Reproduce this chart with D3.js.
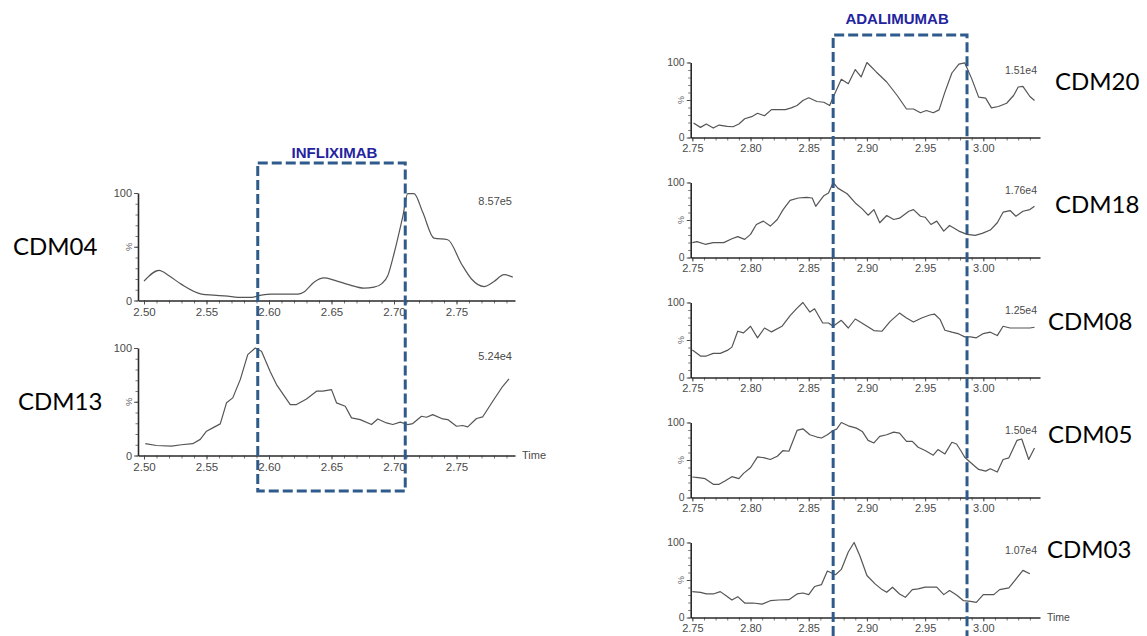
<!DOCTYPE html>
<html>
<head>
<meta charset="utf-8">
<script src="https://cdn.jsdelivr.net/npm/d3@7"></script>
<style>
  html, body { margin: 0; padding: 0; background: #fff; }
  svg { display: block; }
</style>
</head>
<body>
<svg id="chart" width="1147" height="636"></svg>
<script>
// Retention-time windows (min) for each antibody
const infliximabWindow = [2.591, 2.709];
const adalimumabWindow = [2.871, 2.986];

// Sample names and base-peak intensities
const leftSamples = ["CDM04", "CDM13"];
const leftIntensity = ["8.57e5", "5.24e4"];
const rightSamples = ["CDM20", "CDM18", "CDM08", "CDM05", "CDM03"];
const rightIntensity = ["1.51e4", "1.76e4", "1.25e4", "1.50e4", "1.07e4"];

// Axis ticks
const leftTicks = [2.50, 2.55, 2.60, 2.65, 2.70, 2.75];
const rightTicks = [2.75, 2.80, 2.85, 2.90, 2.95, 3.00];
const yTicks = [0, 50, 100];

// Chromatogram traces: [time (min), relative abundance (%)]
const cdm04 = [[2.500,18],[2.512,28],[2.520,23],[2.530,15],[2.546,6],[2.556,5],[2.567,4],[2.575,3],[2.586,3],[2.594,5],[2.602,6],[2.610,6],[2.623,6],[2.628,8],[2.636,17],[2.644,21],[2.652,19],[2.663,15],[2.676,11.5],[2.684,12.4],[2.690,15.5],[2.695,23],[2.700,43.5],[2.707,78],[2.711,99.4],[2.716,99.4],[2.723,82],[2.732,58],[2.743,56.5],[2.754,34],[2.762,20],[2.772,13],[2.780,17.7],[2.788,24],[2.795,21.7]];

const cdm13 = [[2.501,11],[2.510,9.3],[2.522,8.7],[2.530,10],[2.539,11],[2.545,15],[2.550,22.6],[2.555,25.7],[2.561,29.4],[2.566,49],[2.571,53.6],[2.577,70.6],[2.583,93.8],[2.589,100],[2.594,97],[2.601,78],[2.606,66],[2.617,47.4],[2.622,47.4],[2.630,52.6],[2.638,59.8],[2.643,59.8],[2.650,61.3],[2.654,49],[2.661,45.8],[2.666,35],[2.673,33.4],[2.682,28.8],[2.687,34],[2.694,30.3],[2.699,28.8],[2.705,31],[2.711,28.8],[2.715,29.7],[2.722,36.5],[2.726,35.6],[2.731,38],[2.739,34],[2.743,33.4],[2.750,27.2],[2.755,27.9],[2.759,26.6],[2.766,34.4],[2.771,36],[2.779,50.5],[2.787,64.4],[2.792,71.2]];

const cdm20 = [[2.751,19.3],[2.757,13.5],[2.762,18],[2.768,12.6],[2.773,16.6],[2.780,14.8],[2.785,14.3],[2.790,18],[2.795,25],[2.801,27.8],[2.806,32.3],[2.812,29],[2.818,37.2],[2.824,37.2],[2.830,37.2],[2.835,39.5],[2.840,42.6],[2.845,49.3],[2.850,52.9],[2.857,48],[2.863,47],[2.868,42.6],[2.871,53.8],[2.878,77.6],[2.884,71.7],[2.890,90.6],[2.895,80.7],[2.900,100],[2.908,87.4],[2.917,74],[2.926,56],[2.934,38],[2.940,38],[2.946,33],[2.951,36],[2.957,33],[2.962,36.8],[2.967,60.5],[2.973,86],[2.979,97.8],[2.984,99.6],[2.990,78.5],[2.996,53.8],[3.002,52.5],[3.007,39.5],[3.013,41.3],[3.020,45.7],[3.026,56],[3.030,67.3],[3.034,68.2],[3.040,54.7],[3.044,49.3]];

const cdm18 = [[2.750,19.8],[2.754,21.1],[2.761,17.6],[2.768,19.8],[2.777,19.8],[2.784,25],[2.789,27.8],[2.795,24.2],[2.800,30.8],[2.805,44],[2.811,48.5],[2.817,41.9],[2.823,50.7],[2.828,63.9],[2.834,76.2],[2.841,79.3],[2.848,80.2],[2.853,79.3],[2.856,68.3],[2.863,82.4],[2.867,85.9],[2.871,100],[2.875,92.5],[2.883,85],[2.890,72.7],[2.896,64.8],[2.901,56.4],[2.906,63.9],[2.911,46.3],[2.917,56],[2.923,50.7],[2.928,52.4],[2.936,61.7],[2.940,63.9],[2.946,55],[2.950,53.7],[2.955,44],[2.960,48.5],[2.966,35.2],[2.971,42.7],[2.979,35.2],[2.986,30.8],[2.993,29.5],[2.999,32.2],[3.006,36.6],[3.012,46.3],[3.017,60.4],[3.023,62.6],[3.028,55],[3.034,61.7],[3.040,63.9],[3.044,68.3]];

const cdm08 = [[2.750,36.6],[2.757,28.6],[2.762,28.6],[2.768,32.2],[2.774,32.2],[2.780,36.1],[2.784,40.5],[2.789,61.7],[2.794,59.5],[2.800,68.3],[2.806,52.9],[2.812,66],[2.818,60.8],[2.827,68.3],[2.834,82.4],[2.840,92.5],[2.845,100],[2.851,87.2],[2.855,91.6],[2.862,72.7],[2.867,72.7],[2.871,68.3],[2.878,76.2],[2.884,66],[2.890,78],[2.897,71.4],[2.906,62.6],[2.913,61.7],[2.920,74.9],[2.928,85.9],[2.934,79.3],[2.940,74],[2.947,79.3],[2.954,83.3],[2.958,84.6],[2.963,77.1],[2.967,63],[2.973,60.4],[2.979,58.1],[2.984,54.2],[2.989,54.2],[2.994,52.9],[3.000,58.6],[3.006,60.4],[3.012,55.9],[3.017,68.3],[3.023,66],[3.032,66],[3.040,66],[3.044,67]];

const cdm05 = [[2.750,27.3],[2.755,26.4],[2.761,25.1],[2.768,17.6],[2.773,17.6],[2.778,22],[2.784,27.8],[2.790,25.1],[2.794,32.2],[2.800,39.6],[2.806,54.2],[2.812,52.9],[2.817,50.7],[2.823,55],[2.828,62.6],[2.833,61.7],[2.840,89.4],[2.845,91.6],[2.851,83.7],[2.857,80.6],[2.861,79.3],[2.866,83.7],[2.871,89.4],[2.874,91.2],[2.878,100],[2.884,95.6],[2.891,92.5],[2.896,88.1],[2.901,76.2],[2.906,72.7],[2.911,81.5],[2.917,83.7],[2.923,87.2],[2.928,85.9],[2.934,74.9],[2.939,74.9],[2.944,67],[2.950,62.6],[2.957,56.4],[2.961,63.9],[2.967,58.1],[2.973,73.6],[2.977,71.4],[2.981,61.7],[2.984,53.7],[2.990,45.4],[2.996,37.4],[3.002,35.2],[3.006,38.3],[3.012,33.9],[3.017,50.7],[3.022,52.9],[3.029,76.2],[3.033,78],[3.039,50.7],[3.044,66]];

const cdm03 = [[2.750,34.5],[2.757,33.6],[2.762,31.4],[2.768,31.4],[2.774,34.5],[2.779,29.1],[2.784,23.3],[2.789,27.8],[2.795,19.3],[2.802,19.3],[2.810,17.9],[2.817,22.4],[2.824,23.3],[2.833,23.8],[2.840,31.4],[2.845,32.7],[2.850,30.5],[2.855,41.3],[2.861,43.9],[2.866,61.9],[2.873,57],[2.878,64.1],[2.884,87.4],[2.889,100],[2.894,82],[2.900,56],[2.907,44.8],[2.913,37.2],[2.917,33.6],[2.922,40.4],[2.928,31.4],[2.933,26.9],[2.939,37.2],[2.944,38.1],[2.950,40.4],[2.960,40.4],[2.966,30.5],[2.971,35.9],[2.977,30],[2.983,22.4],[2.989,21.5],[2.994,20.2],[3.000,30.5],[3.009,30.5],[3.014,37.2],[3.022,39.5],[3.027,49.3],[3.034,62.8],[3.040,58.3]];

const leftTraces = [cdm04, cdm13];
const rightTraces = [cdm20, cdm18, cdm08, cdm05, cdm03];

const svg = d3.select("#chart");
const tickFont = "'Liberation Sans', Arial, sans-serif";
const axisColor = "#2a2a2a";
const textGray = "#4a4a4a";
const traceColor = "#555";
const boxColor = "#2f5b8c";
const titleColor = "#2424a0";

// Column time scales
const xLeft = d3.scaleLinear().domain([2.4952, 2.7968]).range([138, 515]);
const xRight = d3.scaleLinear().domain([2.7486, 3.0487]).range([690.7, 1040]);

function drawPanel(opts) {
  const { x, top, bottom, data, ticks, minorStart, minorEnd, intensity, intensityX, showTime, fs, smooth } = opts;
  const y = d3.scaleLinear().domain([0, 100]).range([bottom, top]);
  const g = svg.append("g");

  // minor x ticks every 0.01 min
  const minor = d3.range(Math.round(minorStart * 100), Math.round(minorEnd * 100) + 1).map(d => d / 100);
  g.append("g")
    .attr("transform", `translate(0,${bottom})`)
    .call(d3.axisBottom(x).tickValues(minor).tickSize(3).tickSizeOuter(0).tickFormat(""))
    .call(s => s.select(".domain").remove())
    .call(s => s.selectAll("line").attr("stroke", "#555").attr("stroke-width", 0.8));

  // major x axis
  g.append("g")
    .attr("transform", `translate(0,${bottom})`)
    .call(d3.axisBottom(x).tickValues(ticks).tickSize(4).tickSizeOuter(0).tickPadding(3).tickFormat(d3.format(".2f")))
    .call(s => s.select(".domain").attr("stroke", axisColor).attr("stroke-width", 1.6))
    .call(s => s.selectAll("line").attr("stroke", "#444").attr("stroke-width", 0.9))
    .call(s => s.selectAll("text").attr("fill", textGray).attr("font-family", tickFont).attr("font-size", fs));

  // minor y ticks every 10 %
  g.append("g")
    .attr("transform", `translate(${x.range()[0]},0)`)
    .call(d3.axisLeft(y).tickValues(d3.range(0, 101, 10)).tickSize(2.5).tickSizeOuter(0).tickFormat(""))
    .call(s => s.select(".domain").remove())
    .call(s => s.selectAll("line").attr("stroke", "#555").attr("stroke-width", 0.8));

  // major y axis
  g.append("g")
    .attr("transform", `translate(${x.range()[0]},0)`)
    .call(d3.axisLeft(y).tickValues(yTicks).tickSize(4).tickSizeOuter(0).tickPadding(2)
      .tickFormat(d => d === 50 ? "" : String(d)))
    .call(s => s.select(".domain").attr("stroke", axisColor).attr("stroke-width", 1.6))
    .call(s => s.selectAll("line").attr("stroke", "#444").attr("stroke-width", 0.9))
    .call(s => s.selectAll("text").attr("fill", textGray).attr("font-family", tickFont).attr("font-size", fs - 0.5));

  // rotated percent sign at mid-height
  g.append("text")
    .attr("transform", `translate(${x.range()[0] - 9},${y(50)}) rotate(-90)`)
    .attr("text-anchor", "middle")
    .attr("dominant-baseline", "middle")
    .attr("fill", "#666")
    .attr("font-family", tickFont)
    .attr("font-size", fs - 2)
    .text("%");

  // trace
  const line = d3.line().x(d => x(d[0])).y(d => y(d[1]))
    .curve(smooth ? d3.curveMonotoneX : d3.curveLinear);
  g.append("path")
    .datum(data)
    .attr("d", line)
    .attr("fill", "none")
    .attr("stroke", traceColor)
    .attr("stroke-width", 1.2)
    .attr("stroke-linejoin", "round");

  // intensity of the base peak
  g.append("text")
    .attr("x", intensityX)
    .attr("y", top + 9)
    .attr("text-anchor", "end")
    .attr("dominant-baseline", "middle")
    .attr("fill", textGray)
    .attr("font-family", tickFont)
    .attr("font-size", fs - 0.5)
    .text(intensity);

  if (showTime) {
    g.append("text")
      .attr("x", x.range()[1] + 7)
      .attr("y", bottom + 1)
      .attr("dominant-baseline", "middle")
      .attr("fill", textGray)
      .attr("font-family", tickFont)
      .attr("font-size", fs - 0.5)
      .text("Time");
  }
  return y;
}

// ---- Left column: infliximab ----
const leftTops = [193, 348];
const leftH = 107.5;
leftTraces.forEach((data, i) => {
  drawPanel({
    x: xLeft, top: leftTops[i], bottom: leftTops[i] + leftH, data,
    ticks: leftTicks, minorStart: 2.50, minorEnd: 2.79,
    intensity: leftIntensity[i], intensityX: 512, showTime: i === 1, fs: 11.5,
    smooth: i === 0
  });
});

// ---- Right column: adalimumab ----
const rightTop0 = 62.5, rightStep = 120, rightH = 75;
rightTraces.forEach((data, i) => {
  const top = rightTop0 + i * rightStep;
  drawPanel({
    x: xRight, top, bottom: top + rightH, data,
    ticks: rightTicks, minorStart: 2.75, minorEnd: 3.04,
    intensity: rightIntensity[i], intensityX: 1037, showTime: i === rightTraces.length - 1, fs: 11,
    smooth: false
  });
});

// Sample names
const nameFont = "Lato, 'Open Sans', sans-serif";
const leftNamePos = [[13, 245], [18, 400]];
leftSamples.forEach((s, i) => {
  svg.append("text").attr("x", leftNamePos[i][0]).attr("y", leftNamePos[i][1])
    .attr("dominant-baseline", "central").attr("font-family", nameFont)
    .attr("font-size", 24).attr("fill", "#000").text(s);
});
const rightNamePos = [[1055, 80], [1055, 203], [1048, 320], [1048, 433], [1047, 548]];
rightSamples.forEach((s, i) => {
  svg.append("text").attr("x", rightNamePos[i][0]).attr("y", rightNamePos[i][1])
    .attr("dominant-baseline", "central").attr("font-family", nameFont)
    .attr("font-size", 24).attr("fill", "#000").text(s);
});

// Dashed retention windows
function windowBox(x, win, y0, y1, closed) {
  const xa = x(win[0]), xb = x(win[1]);
  const p = d3.path();
  if (closed) {
    p.rect(xa, y0, xb - xa, y1 - y0);
  } else {
    p.moveTo(xa, y1); p.lineTo(xa, y0); p.lineTo(xb, y0); p.lineTo(xb, y1);
  }
  svg.append("path").attr("d", p.toString())
    .attr("fill", "none").attr("stroke", boxColor).attr("stroke-width", 3)
    .attr("stroke-dasharray", "10,4");
  return (xa + xb) / 2;
}

const infCx = windowBox(xLeft, infliximabWindow, 163, 491, true);
const adaCx = windowBox(xRight, adalimumabWindow, 35, 650, false);

svg.append("text").attr("x", infCx + 3).attr("y", 152)
  .attr("text-anchor", "middle").attr("dominant-baseline", "central")
  .attr("font-family", tickFont).attr("font-weight", "bold").attr("font-size", 15)
  .attr("fill", titleColor).text("INFLIXIMAB");
svg.append("text").attr("x", adaCx - 3).attr("y", 18)
  .attr("text-anchor", "middle").attr("dominant-baseline", "central")
  .attr("font-family", tickFont).attr("font-weight", "bold").attr("font-size", 15)
  .attr("fill", titleColor).text("ADALIMUMAB");
</script>
</body>
</html>
